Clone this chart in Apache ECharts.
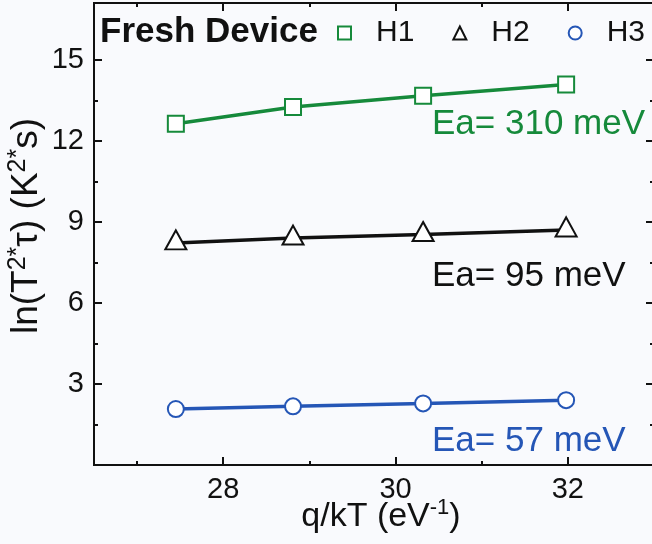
<!DOCTYPE html>
<html>
<head>
<meta charset="utf-8">
<script src="https://cdn.jsdelivr.net/npm/echarts@6/dist/echarts.min.js"></script>
<style>
  html, body { margin: 0; padding: 0; background: #f9fafd; }
  #chart { width: 652px; height: 544px; }
</style>
</head>
<body>
<div id="chart"></div>
<script>
// q/kT positions of the four temperatures
const qkT = [27.45, 28.81, 30.32, 31.98];
// ln(T^2*tau) per trap
const h1 = [12.63, 13.25, 13.67, 14.08];
const h2 = [8.22, 8.40, 8.53, 8.70];
const h3 = [2.07, 2.17, 2.28, 2.40];

const xMajor = [28, 30, 32];
const xMinor = [27, 29, 31, 33];
const yMajor = [3, 6, 9, 12, 15];
const yMinor = [1.5, 4.5, 7.5, 10.5, 13.5];

const GREEN = '#168a3b';
const BLUE = '#2556b6';
const BLACK = '#111111';
const FONT = '"Liberation Sans", Arial, sans-serif';

const chart = echarts.init(document.getElementById('chart'));

function pairs(ys) {
  return qkT.map((x, i) => [x, ys[i]]);
}

function xAxis(position, ticks, len, labels, extra) {
  return Object.assign({
    type: 'value',
    position,
    min: 26.5,
    max: 33,
    axisLine: { show: true, onZero: false, lineStyle: { color: BLACK, width: 2 } },
    axisTick: { show: true, inside: true, length: len, customValues: ticks, lineStyle: { color: BLACK, width: 2 } },
    axisLabel: labels
      ? { show: true, customValues: labels, fontSize: 29, color: BLACK, fontFamily: FONT, margin: 10 }
      : { show: false },
    splitLine: { show: false },
  }, extra || {});
}

function yAxis(position, ticks, len, labels, extra) {
  return Object.assign({
    type: 'value',
    position,
    min: 0,
    max: 17.1,
    axisLine: { show: true, onZero: false, lineStyle: { color: BLACK, width: 2 } },
    axisTick: { show: true, inside: true, length: len, customValues: ticks, lineStyle: { color: BLACK, width: 2 } },
    axisLabel: labels
      ? { show: true, customValues: labels, fontSize: 29, color: BLACK, fontFamily: FONT, margin: 10 }
      : { show: false },
    splitLine: { show: false },
  }, extra || {});
}

function series(name, ys, color, symbol, size, extra) {
  return Object.assign({
    name,
    type: 'line',
    data: pairs(ys),
    xAxisIndex: 0,
    yAxisIndex: 0,
    symbol,
    symbolSize: size,
    showAllSymbol: true,
    lineStyle: { color, width: 3.5 },
    itemStyle: { color, borderColor: color, borderWidth: 3.5 },
    z: 3,
  }, extra || {});
}

const xNameRich = {
  n: { fontSize: 34, color: BLACK, fontFamily: FONT, lineHeight: 40 },
  s: { fontSize: 22, color: BLACK, fontFamily: FONT, lineHeight: 40, verticalAlign: 'top' },
};
const yNameRich = {
  n: { fontSize: 37, color: BLACK, fontFamily: FONT, lineHeight: 42 },
  s: { fontSize: 25, color: BLACK, fontFamily: FONT, lineHeight: 42, verticalAlign: 'top' },
};

chart.setOption({
  animation: false,
  backgroundColor: '#f9fafd',
  textStyle: { fontFamily: FONT },
  grid: { left: 94, right: -2, top: 3, bottom: 79, containLabel: false, outerBoundsMode: 'none' },
  title: {
    text: 'Fresh Device',
    left: 100,
    top: 15,
    padding: 0,
    textStyle: { fontSize: 35, fontWeight: 'bold', color: BLACK, fontFamily: FONT },
  },
  legend: {
    left: 337,
    top: 18,
    padding: 0,
    itemWidth: 13,
    itemHeight: 13,
    itemGap: 38,
    textStyle: { fontSize: 30, color: BLACK, fontFamily: FONT, padding: [0, 0, 0, 20] },
    data: [
      { name: 'H1', icon: 'emptyRect', itemStyle: { borderWidth: 3 } },
      { name: 'H2', icon: 'emptyTriangle', itemStyle: { borderWidth: 3 } },
      { name: 'H3', icon: 'emptyCircle', itemStyle: { borderWidth: 3 } },
    ],
  },
  xAxis: [
    xAxis('bottom', xMajor, 8, xMajor, {
      name: '{n|q/kT (eV}{s|-1}{n|)}',
      nameLocation: 'middle',
      nameGap: 32,
      nameMoveOverlap: false,
      nameTextStyle: { padding: [0, 0, 0, 14], rich: xNameRich },
    }),
    xAxis('bottom', xMinor, 4, null),
    xAxis('top', xMajor, 8, null),
    xAxis('top', xMinor, 4, null),
  ],
  yAxis: [
    yAxis('left', yMajor, 8, yMajor, {
      name: '{n|ln(T}{s|2*}{n|τ) (K}{s|2*}{n|s)}',
      nameLocation: 'middle',
      nameRotate: 90,
      nameGap: 46,
      nameMoveOverlap: false,
      nameTextStyle: { padding: [0, 0, 0, 16], rich: yNameRich },
    }),
    yAxis('left', yMinor, 4, null),
    yAxis('right', yMajor, 8, null),
    yAxis('right', yMinor, 4, null),
  ],
  series: [
    series('H1', h1, GREEN, 'emptyRect', 16),
    series('H2', h2, BLACK, 'emptyTriangle', [21, 19], { symbolOffset: [0, -3] }),
    series('H3', h3, BLUE, 'emptyCircle', 16),
  ],
  graphic: [
    { type: 'text', left: 432, top: 107, style: { text: 'Ea= 310 meV', fontSize: 35, fill: GREEN, fontFamily: FONT } },
    { type: 'text', left: 432, top: 259, style: { text: 'Ea= 95 meV', fontSize: 35, fill: BLACK, fontFamily: FONT } },
    { type: 'text', left: 432, top: 424, style: { text: 'Ea= 57 meV', fontSize: 35, fill: BLUE, fontFamily: FONT } },
  ],
});
</script>
</body>
</html>
